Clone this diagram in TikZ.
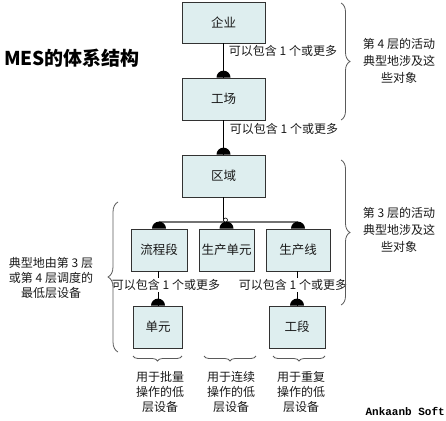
\documentclass[tikz,border=0pt]{standalone}
\usepackage{fontspec}
\setmainfont{Noto Sans CJK SC}
\newfontfamily\wmfont{Liberation Mono}
\usetikzlibrary{decorations.pathreplacing}
\definecolor{boxfill}{RGB}{222,238,239}
\definecolor{boxline}{RGB}{50,50,50}
\definecolor{txtc}{RGB}{25,25,25}
\definecolor{brc}{RGB}{90,90,90}
\tikzset{
  box/.style={draw=boxline, line width=0.8pt, fill=boxfill, inner sep=0pt,
    minimum height=42pt, text=txtc, font=\fontsize{12.5}{14}\selectfont},
  lbl/.style={inner sep=1pt, text=txtc, font=\fontsize{12}{14}\selectfont},
  wlbl/.style={lbl, fill=white},
  txt/.style={inner sep=0pt, align=center, text=txtc},
  conn/.style={draw=black, line width=0.8pt},
  busline/.style={draw=black!55, line width=1.4pt},
  brace/.style={draw=brc, line width=0.8pt, decorate, decoration={brace, amplitude=#1}},
  disc/.style={fill=black}
}
\newcommand\halfdisc[1]{\fill[disc] (#1) ++(7pt,0) arc[start angle=0,end angle=180,radius=7pt] -- cycle;}
\begin{document}
\begin{tikzpicture}[x=1pt,y=-1pt]
\useasboundingbox (0,0) rectangle (446,420);
% boxes
\node[box, minimum width=83pt, minimum height=41pt] (qy) at (223.5,22.5) {企业};
\node[box, minimum width=83pt] (gc) at (223.5,99) {工场};
\node[box, minimum width=83pt] (qu) at (223.5,176) {区域};
\node[box, minimum width=56pt] (lc) at (159,250) {流程段};
\node[box, minimum width=55pt] (sc) at (226.5,250) {生产单元};
\node[box, minimum width=64pt] (sx) at (298,250) {生产线};
\node[box, minimum width=49pt] (dy) at (158,327) {单元};
\node[box, minimum width=56pt] (gd) at (297,327) {工段};
% title
\node[anchor=west, inner sep=0pt, font=\bfseries\fontsize{19}{21}\selectfont] (title) at (4,58) {MES的体系结构};
% connectors
\draw[conn] (qy.south) -- (gc.north);
\halfdisc{gc.north}
\draw[conn] (gc.south) -- (qu.north);
\halfdisc{qu.north}
\coordinate (bus) at (223.5,222);
\draw[conn] (qu.south) -- (qu.south |- bus);
\draw[busline] (lc.north |- bus) -- (sx.north |- bus);
\halfdisc{lc.north}
\halfdisc{sc.north}
\halfdisc{sx.north}
\draw[black, line width=0.6pt, fill=white] (225.5,220) circle[radius=2pt];
\draw[conn] (lc.south -| dy.north) -- (dy.north);
\halfdisc{dy.north}
\draw[conn] (sx.south -| gd.north) -- (gd.north);
\halfdisc{gd.north}
% labels
\node[lbl] (l1) at (283,51) {可以包含 1 个或更多};
\node[lbl] (l2) at (284,129) {可以包含 1 个或更多};
\node[wlbl] (l3) at (166,285) {可以包含 1 个或更多};
\node[wlbl] (l4) at (293,285) {可以包含 1 个或更多};
% braces
\draw[brace=9pt] (341,3) -- (341,120);
\draw[brace=9pt] (341,160) -- (341,305);
\draw[brace=10pt] (118,352) -- (118,202);
\draw[brace=5pt] (182,356) -- (133,356);
\draw[brace=5pt] (256,356) -- (204,356);
\draw[brace=5pt] (325,356) -- (273,356);
% texts
\node[txt, font=\fontsize{12}{17}\selectfont] (t4) at (399,61) {第 4 层的活动\\典型地涉及这\\些对象};
\node[txt, font=\fontsize{12}{17}\selectfont] (t3) at (399,230) {第 3 层的活动\\典型地涉及这\\些对象};
\node[txt, font=\fontsize{12}{15}\selectfont] (tl) at (51,278) {典型地由第 3 层\\或第 4 层调度的\\最低层设备};
\node[txt, font=\fontsize{12}{15}\selectfont] (b1) at (160,392) {用于批量\\操作的低\\层设备};
\node[txt, font=\fontsize{12}{15}\selectfont] (b2) at (231,392) {用于连续\\操作的低\\层设备};
\node[txt, font=\fontsize{12}{15}\selectfont] (b3) at (301,392) {用于重复\\操作的低\\层设备};
\node[inner sep=0pt, anchor=east, font=\wmfont\bfseries\fontsize{11}{12}\selectfont] (wm) at (445,411) {Ankaanb Soft};
\end{tikzpicture}
\end{document}
